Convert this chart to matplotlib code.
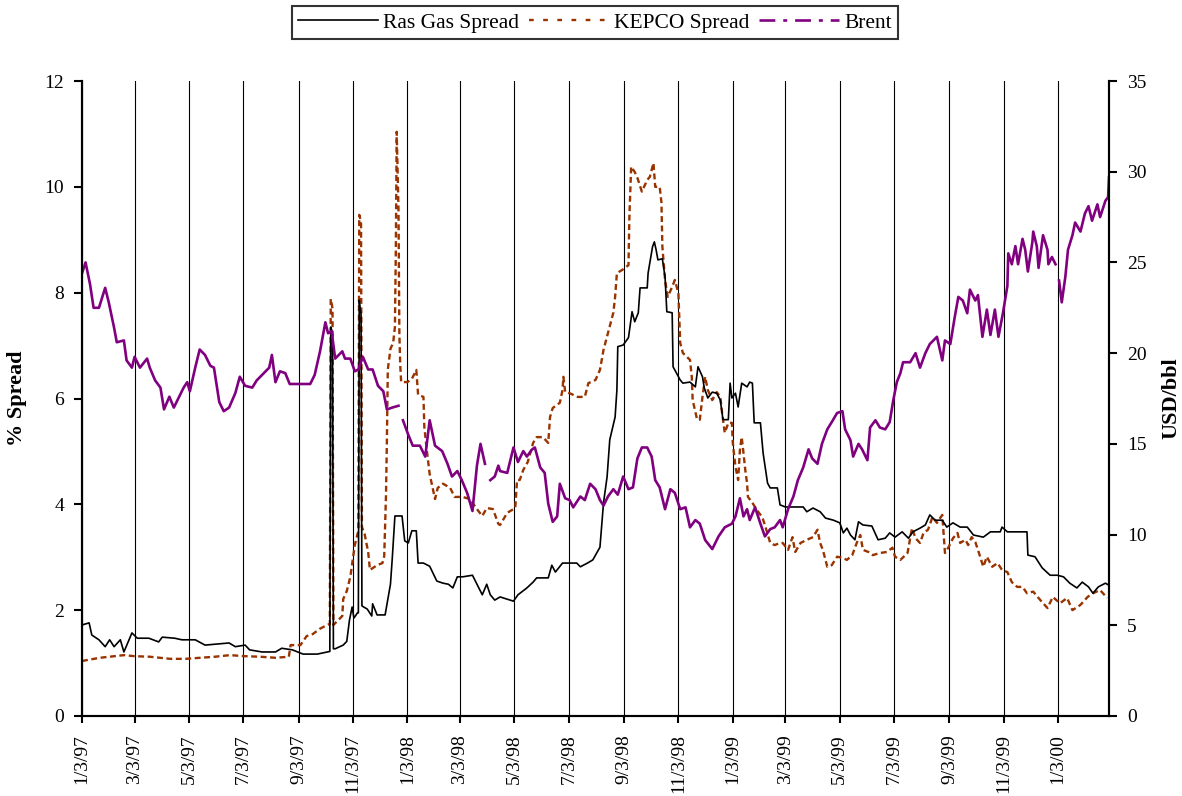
import numpy as np
import pandas as pd
import matplotlib
matplotlib.use('Agg')
import matplotlib.pyplot as plt
from matplotlib.lines import Line2D

# days counted from 3 Jan 1997
start = pd.Timestamp('1997-01-03')

# Ras Gas spread (% , left axis)
rasgas = [(0, 1.72), (8, 1.76), (11, 1.53), (19, 1.44), (26, 1.31), (31, 1.44), (36, 1.31), (43, 1.44),
          (47, 1.21), (56, 1.57), (62, 1.47), (75, 1.47), (86, 1.40), (90, 1.49), (104, 1.47), (112, 1.44),
          (127, 1.44), (138, 1.34), (165, 1.38), (172, 1.31), (183, 1.34), (188, 1.25), (202, 1.21),
          (217, 1.21), (224, 1.28), (236, 1.25), (248, 1.17), (264, 1.17), (275, 1.21), (278, 1.22),
          (279, 7.35), (280, 7.3), (281, 7.2), (282, 1.27), (284, 1.27), (293, 1.34), (297, 1.41),
          (300, 1.81), (303, 2.06), (305, 1.85), (309, 1.95), (310, 1.95), (311, 7.86), (312, 7.7),
          (313, 7.6), (314, 2.08), (320, 2.02), (325, 1.89), (326, 2.12), (331, 1.91), (340, 1.91),
          (346, 2.49), (348, 2.97), (351, 3.78), (359, 3.78), (362, 3.31), (366, 3.27), (370, 3.50),
          (375, 3.50), (377, 2.89), (383, 2.89), (390, 2.83), (398, 2.55), (405, 2.51), (411, 2.49),
          (416, 2.42), (421, 2.63), (427, 2.63), (438, 2.66), (443, 2.49), (449, 2.29), (454, 2.49),
          (458, 2.29), (463, 2.19), (469, 2.25), (484, 2.17), (489, 2.29), (499, 2.42), (506, 2.53),
          (510, 2.61), (523, 2.61), (527, 2.85), (531, 2.72), (539, 2.89), (555, 2.89), (559, 2.82),
          (567, 2.89), (573, 2.95), (581, 3.19), (585, 4.03), (589, 4.52), (592, 5.22), (598, 5.65),
          (600, 6.16), (601, 6.98), (607, 7.01), (613, 7.15), (617, 7.64), (620, 7.45), (624, 7.62),
          (626, 8.09), (634, 8.09), (635, 8.37), (640, 8.87), (642, 8.96), (644, 8.81), (646, 8.62),
          (651, 8.64), (654, 8.30), (656, 7.64), (662, 7.62), (663, 6.60), (671, 6.35), (674, 6.29),
          (682, 6.31), (688, 6.22), (691, 6.60), (696, 6.41), (698, 6.20), (702, 6.01), (707, 6.12),
          (712, 6.10), (716, 5.97), (719, 5.60), (725, 5.60), (727, 6.29), (729, 6.01), (733, 6.10),
          (736, 5.84), (740, 6.29), (746, 6.22), (749, 6.31), (752, 6.29), (754, 5.54), (761, 5.54),
          (764, 4.97), (769, 4.40), (772, 4.31), (780, 4.31), (783, 3.99), (789, 3.95), (809, 3.95),
          (813, 3.86), (820, 3.93), (828, 3.86), (834, 3.74), (843, 3.70), (850, 3.65), (854, 3.46),
          (858, 3.55), (862, 3.42), (867, 3.33), (871, 3.67), (876, 3.61), (886, 3.59), (893, 3.33),
          (901, 3.36), (906, 3.46), (912, 3.38), (920, 3.48), (927, 3.36), (932, 3.48), (940, 3.55),
          (946, 3.61), (951, 3.80), (957, 3.70), (965, 3.70), (970, 3.57), (977, 3.65), (985, 3.57),
          (993, 3.57), (1000, 3.42), (1011, 3.38), (1019, 3.48), (1030, 3.48), (1032, 3.57),
          (1038, 3.48), (1060, 3.48), (1061, 3.04), (1069, 3.01), (1077, 2.80), (1086, 2.66),
          (1094, 2.66), (1101, 2.63), (1108, 2.51), (1116, 2.42), (1122, 2.53), (1129, 2.44),
          (1134, 2.32), (1140, 2.44), (1148, 2.51), (1151, 2.48)]

# KEPCO spread (%, left axis)
kepco = [(0, 1.04), (20, 1.10), (47, 1.15), (59, 1.13), (76, 1.12), (88, 1.10), (99, 1.08), (116, 1.08),
         (132, 1.10), (149, 1.12), (166, 1.15), (183, 1.13), (200, 1.12), (217, 1.10), (232, 1.12),
         (234, 1.34), (245, 1.34), (252, 1.51), (259, 1.55), (267, 1.65), (275, 1.72), (278, 1.74),
         (279, 7.88), (280, 7.8), (281, 7.7), (282, 1.72), (292, 1.89), (293, 2.21), (297, 2.36),
         (301, 2.63), (306, 3.23), (310, 3.50), (311, 9.47), (312, 9.4), (313, 9.3), (314, 3.57),
         (317, 3.44), (321, 3.10), (323, 2.76), (331, 2.85), (337, 2.89), (339, 3.02), (341, 4.18),
         (342, 5.20), (343, 6.54), (346, 6.94), (349, 7.05), (351, 7.35), (352, 8.77), (353, 11.04),
         (355, 9.58), (356, 7.22), (357, 6.62), (358, 6.31), (365, 6.31), (370, 6.37), (375, 6.54),
         (377, 6.07), (383, 6.03), (384, 5.46), (387, 4.99), (390, 4.57), (396, 4.10), (399, 4.31),
         (405, 4.39), (413, 4.31), (418, 4.14), (427, 4.14), (435, 4.10), (443, 3.91), (449, 3.78),
         (454, 3.93), (461, 3.91), (467, 3.63), (469, 3.61), (477, 3.84), (486, 3.93), (488, 4.46),
         (491, 4.46), (495, 4.65), (500, 4.80), (506, 5.16), (510, 5.27), (517, 5.27), (523, 5.16),
         (525, 5.65), (528, 5.82), (536, 5.92), (539, 6.16), (540, 6.41), (542, 6.12), (547, 6.10),
         (556, 6.03), (564, 6.03), (568, 6.29), (576, 6.35), (581, 6.54), (585, 6.92), (590, 7.24),
         (596, 7.62), (598, 7.92), (600, 8.37), (606, 8.43), (613, 8.52), (614, 9.43), (616, 10.38),
         (620, 10.28), (623, 10.17), (628, 9.91), (634, 10.13), (637, 10.19), (641, 10.45),
         (643, 10.00), (648, 10.00), (650, 9.70), (651, 8.87), (654, 8.24), (657, 7.92), (662, 8.11),
         (665, 8.24), (669, 7.99), (671, 7.05), (674, 6.86), (682, 6.73), (684, 6.41), (685, 5.97),
         (690, 5.60), (693, 5.60), (696, 6.03), (699, 6.41), (702, 6.16), (707, 5.97), (712, 6.12),
         (716, 6.03), (718, 5.73), (721, 5.35), (725, 5.54), (729, 5.54), (730, 5.16), (733, 4.71),
         (736, 4.46), (738, 5.03), (740, 5.27), (742, 4.97), (744, 4.65), (746, 4.40), (747, 4.14),
         (752, 4.03), (757, 3.89), (763, 3.76), (766, 3.61), (772, 3.27), (777, 3.23), (783, 3.27),
         (786, 3.27), (792, 3.14), (797, 3.38), (800, 3.10), (806, 3.27), (813, 3.33), (820, 3.38),
         (825, 3.52), (828, 3.27), (831, 3.14), (836, 2.82), (841, 2.85), (847, 3.01), (853, 2.99),
         (858, 2.95), (864, 3.04), (869, 3.27), (873, 3.42), (876, 3.14), (882, 3.10), (887, 3.04),
         (895, 3.08), (903, 3.10), (909, 3.18), (912, 3.01), (918, 2.95), (926, 3.08), (931, 3.55),
         (935, 3.36), (940, 3.27), (944, 3.46), (949, 3.52), (954, 3.76), (959, 3.65), (965, 3.80),
         (968, 3.08), (972, 3.19), (977, 3.36), (982, 3.46), (985, 3.27), (991, 3.33), (994, 3.23),
         (998, 3.38), (1002, 3.29), (1005, 3.14), (1011, 2.82), (1015, 3.01), (1021, 2.82),
         (1027, 2.89), (1032, 2.76), (1038, 2.72), (1043, 2.53), (1049, 2.44), (1055, 2.44),
         (1060, 2.32), (1067, 2.35), (1075, 2.19), (1083, 2.04), (1089, 2.25), (1097, 2.13),
         (1105, 2.23), (1111, 2.00), (1120, 2.10), (1128, 2.25), (1134, 2.32), (1142, 2.38),
         (1150, 2.23)]

# Brent (USD/bbl, right axis); nan = gap in the series
nan = np.nan
brent = [(0, 24.4), (4, 25.0), (9, 23.8), (13, 22.5), (19, 22.5), (26, 23.6), (30, 22.8), (36, 21.4),
         (39, 20.6), (47, 20.7), (50, 19.6), (56, 19.2), (59, 19.8), (65, 19.2), (73, 19.7), (76, 19.2),
         (82, 18.5), (88, 18.1), (92, 16.9), (98, 17.6), (103, 17.0), (109, 17.6), (114, 18.1),
         (118, 18.4), (121, 17.9), (127, 19.2), (132, 20.2), (138, 19.9), (144, 19.3), (148, 19.2),
         (154, 17.3), (159, 16.8), (165, 17.0), (172, 17.8), (177, 18.7), (183, 18.2), (191, 18.1),
         (196, 18.5), (204, 18.9), (210, 19.2), (213, 19.9), (217, 18.4), (222, 19.0), (228, 18.9),
         (233, 18.3), (245, 18.3), (256, 18.3), (261, 18.8), (267, 20.1), (273, 21.7), (276, 21.1),
         (280, 21.2), (284, 19.7), (292, 20.1), (295, 19.7), (301, 19.7), (306, 19.0), (310, 19.1),
         (315, 19.8), (321, 19.1), (326, 19.1), (332, 18.2), (338, 17.9), (342, 16.9), (348, 17.0),
         (355, 17.1), (357, nan), (360, 16.3), (366, 15.5), (371, 14.9), (379, 14.9), (385, 14.3),
         (390, 16.3), (396, 14.9), (404, 14.6), (410, 13.9), (415, 13.2), (421, 13.5), (426, 13.0),
         (432, 12.3), (438, 11.3), (443, 13.8), (447, 15.0), (452, 13.9), (454, nan), (458, 13.0),
         (463, 13.2), (467, 13.8), (469, 13.5), (477, 13.4), (484, 14.8), (489, 14.0), (495, 14.6),
         (499, 14.3), (505, 14.7), (508, 14.8), (514, 13.7), (519, 13.4), (523, 11.7), (528, 10.7),
         (533, 11.0), (536, 12.8), (542, 12.0), (547, 11.9), (551, 11.5), (559, 12.1), (564, 11.9),
         (570, 12.8), (576, 12.5), (581, 11.9), (585, 11.6), (590, 12.1), (596, 12.5), (601, 12.2),
         (607, 13.2), (613, 12.5), (618, 12.6), (623, 14.2), (628, 14.8), (634, 14.8), (639, 14.3),
         (643, 13.0), (648, 12.6), (654, 11.4), (660, 12.5), (665, 12.3), (671, 11.4), (677, 11.5),
         (682, 10.4), (688, 10.8), (693, 10.6), (699, 9.7), (707, 9.2), (714, 9.9), (721, 10.4),
         (729, 10.6), (733, 11.0), (738, 12.0), (742, 11.0), (746, 11.4), (749, 10.8), (755, 11.5),
         (761, 10.6), (766, 9.9), (772, 10.3), (777, 10.4), (783, 10.8), (786, 10.4), (792, 11.4),
         (798, 12.1), (803, 13.0), (809, 13.7), (815, 14.7), (819, 14.2), (825, 13.9), (830, 15.0),
         (836, 15.8), (841, 16.2), (847, 16.7), (853, 16.8), (856, 15.8), (862, 15.2), (865, 14.3),
         (871, 15.0), (875, 14.7), (881, 14.1), (884, 15.9), (890, 16.3), (895, 15.9), (901, 15.8),
         (906, 16.2), (910, 17.4), (914, 18.4), (918, 18.9), (921, 19.5), (929, 19.5), (935, 20.0),
         (940, 19.2), (946, 20.0), (951, 20.5), (959, 20.9), (965, 19.6), (968, 20.7), (974, 20.5),
         (979, 22.0), (983, 23.1), (988, 22.9), (993, 22.2), (996, 23.5), (1002, 22.9), (1005, 23.2),
         (1010, 20.9), (1015, 22.4), (1019, 21.0), (1024, 22.4), (1028, 20.9), (1033, 22.2),
         (1038, 23.7), (1039, 25.5), (1043, 24.9), (1047, 25.9), (1050, 24.9), (1055, 26.3),
         (1058, 25.7), (1061, 24.5), (1066, 26.1), (1067, 26.7), (1071, 25.9), (1073, 24.7),
         (1078, 26.5), (1083, 25.7), (1084, 24.9), (1088, 25.3), (1092, 24.9), (1093, nan),
         (1096, 24.0), (1099, 22.8), (1103, 24.2), (1106, 25.7), (1111, 26.5), (1114, 27.2),
         (1120, 26.7), (1125, 27.7), (1129, 28.1), (1133, 27.3), (1139, 28.2), (1142, 27.5),
         (1148, 28.4), (1151, 28.6), (1152, 29.7)]

tick_dates = ['1997-01-03', '1997-03-03', '1997-05-03', '1997-07-03', '1997-09-03', '1997-11-03',
              '1998-01-03', '1998-03-03', '1998-05-03', '1998-07-03', '1998-09-03', '1998-11-03',
              '1999-01-03', '1999-03-03', '1999-05-03', '1999-07-03', '1999-09-03', '1999-11-03',
              '2000-01-03']
tick_labels = ['1/3/97', '3/3/97', '5/3/97', '7/3/97', '9/3/97', '11/3/97',
               '1/3/98', '3/3/98', '5/3/98', '7/3/98', '9/3/98', '11/3/98',
               '1/3/99', '3/3/99', '5/3/99', '7/3/99', '9/3/99', '11/3/99', '1/3/00']


def split(pairs):
    days = np.array([p[0] for p in pairs])
    vals = np.array([p[1] for p in pairs], dtype=float)
    return start + pd.to_timedelta(days, unit='D'), vals


plt.rcParams['font.family'] = ['Liberation Serif', 'DejaVu Serif']

fig = plt.figure(figsize=(11.82, 7.96), dpi=100)
ax = fig.add_axes([82 / 1182, 80 / 796, 1027 / 1182, 635 / 796])

kd, kv = split(kepco)
rd, rv = split(rasgas)
bd, bv = split(brent)

ax.plot(kd, kv, color='#993300', lw=1.7, ls=(0, (2.5, 1.5)))
ax.plot(rd, rv, color='black', lw=1.2)

ax.set_xlim(start, start + pd.Timedelta(days=1152))
ax.set_ylim(0, 12)
ax.set_yticks(range(0, 13, 2))
ax.set_xticks(pd.to_datetime(tick_dates))
ax.set_xticklabels(tick_labels, rotation=90)
ax.grid(axis='x', color='black', lw=0.8)
ax.set_axisbelow(True)

ax2 = ax.twinx()
ax2.plot(bd, bv, color='#800080', lw=1.9)
ax2.set_ylim(0, 35)
ax2.set_yticks(range(0, 36, 5))

for a in (ax, ax2):
    a.spines['top'].set_visible(False)
    for s in ('left', 'right', 'bottom'):
        a.spines[s].set_linewidth(1.5)
    a.tick_params(axis='y', direction='out', length=6, width=1.5, labelsize=14, pad=7)
ax.tick_params(axis='x', direction='out', length=5, width=1.5, labelsize=14, pad=8)

ax.set_ylabel('% Spread', fontsize=16, fontweight='bold')
ax.yaxis.set_label_coords(-0.054, 0.5)
ax2.set_ylabel('USD/bbl', fontsize=16, fontweight='bold')
ax2.yaxis.set_label_coords(1.051, 0.5)

handles = [Line2D([], [], color='black', lw=1.2),
           Line2D([], [], color='#993300', lw=1.7, ls=(0, (2, 4))),
           Line2D([], [], color='#800080', lw=1.9, ls=(0, (6, 3, 1.5, 3)))]
leg = fig.legend(handles, ['Ras Gas Spread', 'KEPCO Spread', 'Brent'],
                 loc='center', bbox_to_anchor=(595 / 1182, 1 - 22.5 / 796), ncol=3, fontsize=15.5,
                 frameon=True, fancybox=False, edgecolor='black', handlelength=3.7,
                 handletextpad=0.25, columnspacing=0.45, borderpad=0.3, borderaxespad=0)
leg.get_frame().set_linewidth(1.5)

fig.savefig('out.png', dpi=100)
